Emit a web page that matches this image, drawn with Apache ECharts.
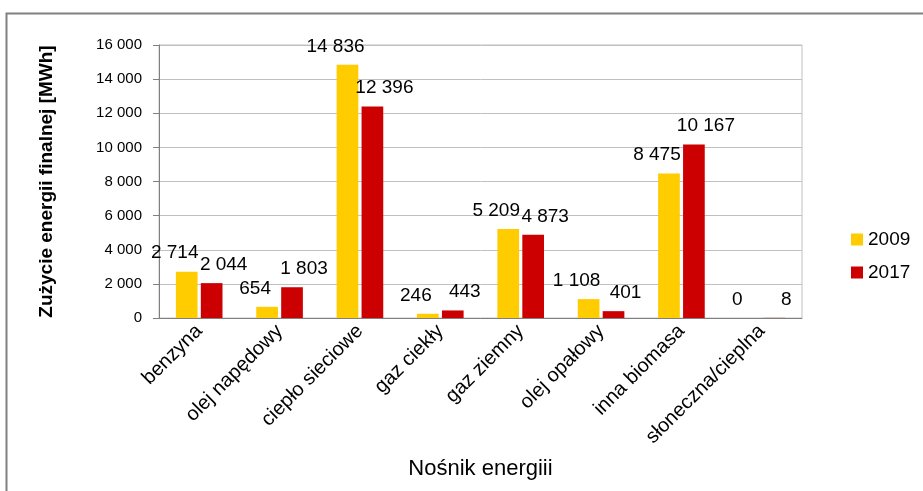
<!DOCTYPE html>
<html>
<head>
<meta charset="utf-8">
<script src="https://cdn.jsdelivr.net/npm/echarts@6/dist/echarts.min.js"></script>
<style>
  html, body { margin: 0; padding: 0; background: #fff; }
  #chart { width: 923px; height: 491px; }
</style>
</head>
<body>
<div id="chart"></div>
<script>
const categories = ['benzyna', 'olej napędowy', 'ciepło sieciowe', 'gaz ciekły', 'gaz ziemny', 'olej opałowy', 'inna biomasa', 'słoneczna/cieplna']
const values2009 = [2714, 654, 14836, 246, 5209, 1108, 8475, 0]
const values2017 = [2044, 1803, 12396, 443, 4873, 401, 10167, 8]
const yTicks = [0, 2000, 4000, 6000, 8000, 10000, 12000, 14000, 16000]

const font = 'Liberation Sans, Arial, sans-serif'

// "14 836" style, spacja jako separator tysięcy
const fmt = (v) => String(v).replace(/\B(?=(\d{3})+(?!\d))/g, ' ')

const chart = echarts.init(document.getElementById('chart'))

const labelStyle = (dx) => ({
  show: true,
  position: 'top',
  distance: 9,
  offset: [dx, 0],
  color: '#000',
  fontFamily: font,
  fontSize: 19,
  formatter: (p) => fmt(p.value)
})

chart.setOption({
  backgroundColor: '#fff',
  animation: false,
  textStyle: { fontFamily: font },
  graphic: [
    {
      type: 'rect',
      shape: { x: 6.5, y: 13.5, width: 1000, height: 1000 },
      style: { fill: 'none', stroke: '#808080', lineWidth: 2 }
    }
  ],
  grid: {
    left: 159,
    right: 121,
    top: 45,
    bottom: 173,
    show: true,
    borderColor: '#c0c0c0',
    borderWidth: 1,
    backgroundColor: 'transparent'
  },
  legend: {
    orient: 'vertical',
    left: 846,
    top: 225,
    itemWidth: 12,
    itemHeight: 12,
    itemGap: 14,
    icon: 'rect',
    textStyle: { fontFamily: font, fontSize: 19, color: '#000' },
    data: ['2009', '2017']
  },
  xAxis: {
    type: 'category',
    data: categories,
    name: 'Nośnik energiii',
    nameLocation: 'middle',
    nameGap: 140,
    nameTextStyle: { fontFamily: font, fontSize: 22, color: '#000' },
    axisLine: { lineStyle: { color: '#808080', width: 1 } },
    axisTick: { length: 5, lineStyle: { color: '#808080' } },
    axisLabel: {
      rotate: 45,
      color: '#000',
      fontFamily: font,
      fontSize: 20,
      margin: 10,
      interval: 0
    }
  },
  yAxis: {
    type: 'value',
    min: yTicks[0],
    max: yTicks[yTicks.length - 1],
    interval: yTicks[1] - yTicks[0],
    name: 'Zużycie energii finalnej [MWh]',
    nameLocation: 'middle',
    nameGap: 103,
    nameTextStyle: { fontFamily: font, fontSize: 19, fontWeight: 'bold', color: '#000' },
    axisLine: { show: true, lineStyle: { color: '#808080', width: 1 } },
    axisTick: { show: true, length: 6, lineStyle: { color: '#808080' } },
    axisLabel: {
      color: '#000',
      fontFamily: font,
      fontSize: 15,
      margin: 17,
      formatter: (v) => fmt(v)
    },
    splitLine: { lineStyle: { color: '#c0c0c0', width: 1 } }
  },
  series: [
    {
      name: '2009',
      type: 'bar',
      data: values2009,
      barGap: '15%',
      barCategoryGap: '42%',
      itemStyle: { color: '#ffcc00' },
      label: labelStyle(-12)
    },
    {
      name: '2017',
      type: 'bar',
      data: values2017,
      itemStyle: { color: '#cc0000' },
      label: labelStyle(12)
    }
  ]
})
</script>
</body>
</html>
